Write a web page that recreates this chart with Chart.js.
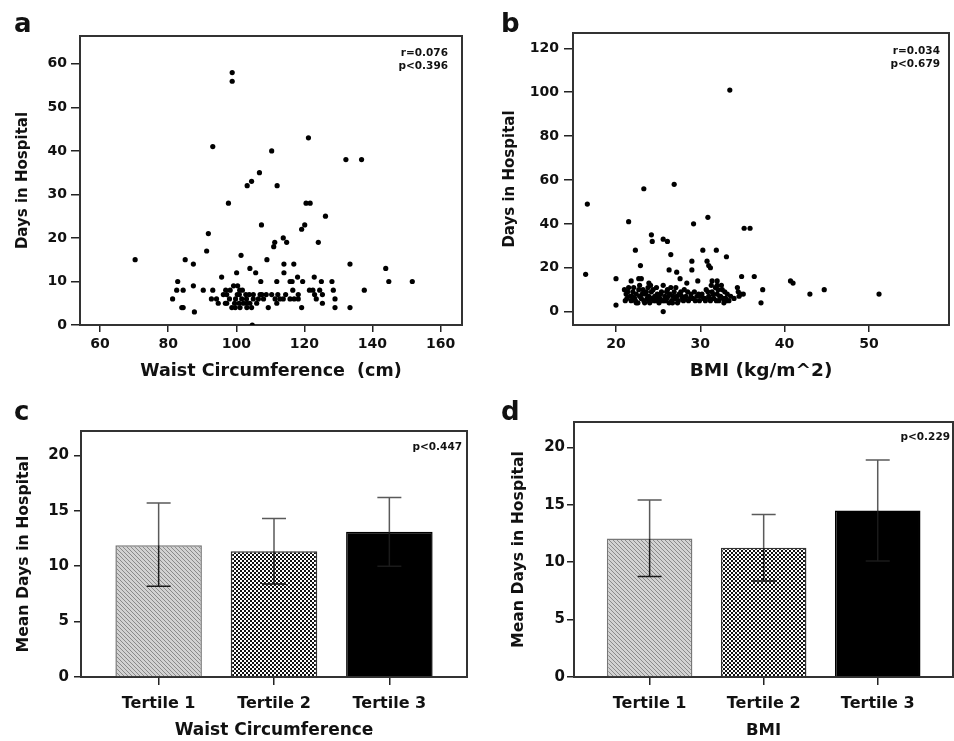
<!DOCTYPE html>
<html>
<head>
<meta charset="utf-8">
<script src="https://cdn.jsdelivr.net/npm/chart.js@4.4.1/dist/chart.umd.min.js"></script>
<style>
  body { margin: 0; background: #fff; width: 954px; height: 741px; overflow: hidden; position: relative; font-family: "DejaVu Sans", sans-serif; color: #111; }
  canvas { position: absolute; }
  .letter { position: absolute; font-size: 26px; line-height: 26px; font-weight: bold; }
  .note { position: absolute; font-size: 10.5px; line-height: 12.5px; font-weight: bold; text-align: right; }
</style>
</head>
<body>
<canvas id="ca" width="477" height="392" style="left:0;top:0"></canvas>
<canvas id="cb" width="477" height="392" style="left:477px;top:0"></canvas>
<canvas id="cc" width="477" height="361" style="left:0;top:380px"></canvas>
<canvas id="cd" width="477" height="361" style="left:477px;top:380px"></canvas>

<div class="letter" style="left:14px;top:10px">a</div>
<div class="letter" style="left:501px;top:10px">b</div>
<div class="letter" style="left:14px;top:398px">c</div>
<div class="letter" style="left:501px;top:398px">d</div>

<div class="note" style="right:506px;top:46px">r=0.076<br>p&lt;0.396</div>
<div class="note" style="right:14px;top:44px">r=0.034<br>p&lt;0.679</div>
<div class="note" style="right:492px;top:440px">p&lt;0.447</div>
<div class="note" style="right:4px;top:430px">p&lt;0.229</div>

<script>
// panel a: waist circumference (cm) vs days in hospital
const waistCm = [70.3, 98.8, 98.8, 93.1, 121.2, 110.4, 132.2, 136.8, 106.8, 103.2,
  104.5, 112, 97.7, 120.5, 121.7, 126.2, 107.4, 119.2, 120.1, 91.8,
  91.3, 113.8, 114.8, 111, 111.3, 124.1, 101.4, 85, 109, 87.4,
  114, 116.9, 133.4, 143.9, 104, 105.7, 100.1, 114, 95.7, 122.9,
  118, 82.8, 107.2, 111.9, 115.8, 116.4, 119.5, 125, 128.1, 144.8,
  151.7, 87.4, 99.2, 100.4, 82.5, 84.4, 90.3, 93.1, 96.9, 98.2,
  101, 116.6, 121.5, 122.5, 128.5, 137.6, 97.2, 100.3, 100.9, 105,
  107.5, 112.2, 114.5, 118.2, 125.3, 81.3, 92.7, 94.2, 101.6, 103,
  105, 108, 111.4, 112.8, 113.8, 115.8, 117, 118.2, 123.5, 129,
  94.7, 96.8, 97.2, 102.1, 103.1, 104, 106, 111.9, 125.3, 84,
  84.4, 98.7, 99.7, 101.1, 103.1, 109.4, 119.2, 129, 133.4, 87.7,
  104.7, 110.4, 107, 124.5, 123, 98, 99.5, 100.8, 102.8, 104.5,
  106.5, 108.8, 96.2, 99.8, 101.8, 103.8];
const waistDays = [15, 58, 56, 41, 43, 40, 38, 38, 35, 32,
  33, 32, 28, 28, 28, 25, 23, 22, 23, 21,
  17, 20, 19, 18, 19, 19, 16, 15, 15, 14,
  14, 14, 14, 13, 13, 12, 12, 12, 11, 11,
  11, 10, 10, 10, 10, 10, 10, 10, 10, 10,
  10, 9, 9, 9, 8, 8, 8, 8, 8, 8,
  8, 8, 8, 8, 8, 8, 7, 7, 7, 7,
  7, 7, 7, 7, 7, 6, 6, 6, 6, 6,
  6, 6, 6, 6, 6, 6, 6, 6, 6, 6,
  5, 5, 5, 5, 5, 5, 5, 5, 5, 4,
  4, 4, 4, 4, 4, 4, 4, 4, 4, 3,
  0, 7, 7, 8, 7, 6, 5, 5, 7, 4,
  6, 7, 7, 6, 8, 7];
const waistTicks = [60, 80, 100, 120, 140, 160];
const waistDayTicks = [0, 10, 20, 30, 40, 50, 60];

// panel b: BMI vs days in hospital
const bmiVals = [16.6, 16.4, 33.5, 23.3, 26.9, 21.5, 29.2, 30.9, 35.2, 35.9,
  24.2, 24.3, 25.6, 26.1, 22.3, 30.3, 31.9, 26.5, 33.1, 22.9,
  29, 30.8, 31, 31.2, 29, 26.3, 27.2, 20, 22.7, 23,
  27.6, 34.9, 36.4, 21.8, 23.9, 28.4, 29.7, 31.4, 32, 40.7,
  41, 22.8, 34.4, 37.4, 44.7, 43, 51.2, 34.8, 35.1, 37.2,
  20, 25.6, 34, 34.6, 34.5,
  21, 21.2, 21.3, 21.5, 21.7, 21.8, 22, 22.2, 22.4, 22.6,
  22.8, 23, 23.2, 23.3, 23.5, 23.7, 23.9, 24, 24.2, 24.3,
  24.5, 24.6, 24.8, 25, 25.1, 25.3, 25.5, 25.6, 25.8, 26,
  26.1, 26.3, 26.4, 26.6, 26.8, 27, 27.1, 27.3, 27.5, 27.7,
  27.9, 28.1, 28.3, 28.6, 28.9, 29.1, 29.3, 29.6, 29.9, 30.2,
  30.5, 30.7, 31, 31.2, 31.4, 31.6, 31.8, 32, 32.2, 32.4,
  32.6, 32.8, 33, 33.2, 33.4, 22.4, 23.9, 25.7, 26.9, 24.1,
  22.1, 31.3, 32.5, 30.1, 28, 33.6,
  21.4, 21.9, 22.3, 22.7, 23.1, 23.4, 23.6, 24.1, 24.4, 24.7,
  24.9, 25.2, 25.4, 25.9, 26.2, 26.5, 26.7, 27.2, 27.4, 27.8,
  28.2, 28.5, 28.8, 29.4, 29.8, 30.4, 30.9, 31.1, 31.5, 31.9,
  32.1, 32.3, 32.7, 32.9, 33.1, 21.1, 23.8, 26, 30.6, 32];
const bmiDays = [49, 17, 101, 56, 58, 41, 40, 43, 38, 38,
  35, 32, 33, 32, 28, 28, 28, 26, 25, 21,
  23, 23, 21, 20, 19, 19, 18, 15, 15, 15,
  15, 16, 16, 14, 13, 13, 14, 14, 14, 14,
  13, 12, 11, 10, 10, 8, 8, 8, 8, 4,
  3, 0, 6, 7, 9,
  10, 8, 6, 11, 7, 5, 9, 6, 8, 4,
  7, 6, 10, 5, 8, 6, 7, 4, 9, 6,
  5, 7, 11, 6, 4, 8, 5, 12, 7, 6,
  10, 4, 8, 5, 7, 6, 11, 4, 8, 9,
  6, 10, 7, 5, 8, 6, 9, 7, 5, 8,
  6, 10, 7, 5, 9, 6, 11, 8, 5, 7,
  10, 4, 6, 8, 5, 4, 5, 5, 9, 12,
  11, 12, 12, 7, 5, 7,
  9, 7, 5, 10, 8, 4, 9, 6, 10, 5,
  8, 6, 9, 5, 7, 11, 4, 7, 5, 7,
  6, 9, 6, 5, 8, 6, 9, 6, 8, 5,
  10, 7, 6, 9, 5, 5, 11, 9, 5, 12];
const bmiTicks = [20, 30, 40, 50];
const bmiDayTicks = [0, 20, 40, 60, 80, 100, 120];

// panels c and d: mean days in hospital by tertile, with error bars
const tertiles = ['Tertile 1', 'Tertile 2', 'Tertile 3'];
const waistMeans = [11.9, 11.35, 13.1];
const waistHigh  = [15.7, 14.3, 16.2];
const waistLow   = [8.2, 8.4, 10.0];
const bmiMeans   = [12.05, 11.25, 14.5];
const bmiHigh    = [15.4, 14.15, 18.9];
const bmiLow     = [8.75, 8.35, 10.1];
const meanTicks  = [0, 5, 10, 15, 20];

Chart.defaults.font.family = '"DejaVu Sans", sans-serif';
Chart.defaults.color = '#111';

const frame = {
  id: 'frame',
  beforeDatasetsDraw(chart) {
    const { ctx, chartArea: a } = chart;
    ctx.save();
    ctx.strokeStyle = '#333';
    ctx.lineWidth = 2;
    ctx.strokeRect(a.left, a.top, a.right - a.left, a.bottom - a.top);
    ctx.restore();
  }
};

// whisker above the bar is grey, the part inside the bar is near black
const errorBars = {
  id: 'errorBars',
  afterDatasetsDraw(chart, args, opts) {
    const { ctx } = chart;
    const y = chart.scales.y;
    const meta = chart.getDatasetMeta(0);
    ctx.save();
    ctx.lineWidth = 1.5;
    meta.data.forEach((bar, i) => {
      const top = y.getPixelForValue(opts.hi[i]);
      const bot = y.getPixelForValue(opts.lo[i]);
      ctx.strokeStyle = '#5a5a5a';
      ctx.beginPath();
      ctx.moveTo(bar.x, top); ctx.lineTo(bar.x, bar.y);
      ctx.moveTo(bar.x - 12, top); ctx.lineTo(bar.x + 12, top);
      ctx.stroke();
      ctx.strokeStyle = '#1a1a1a';
      ctx.beginPath();
      ctx.moveTo(bar.x, bar.y); ctx.lineTo(bar.x, bot);
      ctx.moveTo(bar.x - 12, bot); ctx.lineTo(bar.x + 12, bot);
      ctx.stroke();
    });
    ctx.restore();
  }
};

function pattern(draw) {
  const c = document.createElement('canvas');
  c.width = 4; c.height = 4;
  const g = c.getContext('2d');
  draw(g);
  return g.createPattern(c, 'repeat');
}

const hatch = pattern(g => {
  g.fillStyle = '#d2d2d2'; g.fillRect(0, 0, 4, 4);
  g.fillStyle = '#8a8a8a';
  for (let i = 0; i < 4; i++) g.fillRect(i, i, 1, 1);
});
const checker = pattern(g => {
  g.fillStyle = '#111'; g.fillRect(0, 0, 4, 4);
  g.fillStyle = '#fff';
  g.fillRect(0, 0, 2, 2); g.fillRect(2, 2, 2, 2);
});

function axis(o) {
  return {
    type: 'linear',
    offset: false,
    min: o.min, max: o.max,
    afterBuildTicks: s => { s.ticks = o.ticks.map(v => ({ value: v })); },
    afterFit: s => { if (o.width) s.width = o.width; if (o.height) s.height = o.height; },
    grid: { offset: false, drawOnChartArea: false, tickLength: o.tickLength, color: '#222', lineWidth: 1.5 },
    border: { display: false },
    ticks: { padding: o.pad, font: { size: o.size, weight: 'bold' }, color: '#111',
             maxRotation: 0, autoSkip: false,
             callback: o.labels ? (v, i) => o.labels[i] : v => v },
    title: { display: true, text: o.title, color: '#111',
             font: { size: o.titleSize, weight: 'bold' }, padding: o.titlePad }
  };
}

function scatter(id, xs, ys, pad, x, y) {
  new Chart(document.getElementById(id), {
    type: 'scatter',
    data: { datasets: [{ data: xs.map((v, i) => ({ x: v, y: ys[i] })),
      pointRadius: 2.6, backgroundColor: '#000', borderWidth: 0 }] },
    options: {
      responsive: false, animation: false,
      layout: { padding: pad },
      plugins: { legend: { display: false }, tooltip: { enabled: false } },
      scales: { x: axis(x), y: axis(y) }
    },
    plugins: [frame]
  });
}

function bars(id, means, hi, lo, pad, x, y) {
  new Chart(document.getElementById(id), {
    type: 'bar',
    data: { datasets: [{ data: means.map((m, i) => ({ x: i + 1, y: m })),
      backgroundColor: [hatch, checker, '#000'],
      borderColor: ['#777', '#333', '#000'], borderWidth: 1.5,
      categoryPercentage: 1, barPercentage: 0.75 }] },
    options: {
      responsive: false, animation: false,
      layout: { padding: pad },
      plugins: { legend: { display: false }, tooltip: { enabled: false },
                 errorBars: { hi: hi, lo: lo } },
      scales: { x: axis(x), y: axis(y) }
    },
    plugins: [frame, errorBars]
  });
}

scatter('ca', waistCm, waistDays, { top: 36, right: 15, left: 0, bottom: 0 },
  { min: 54.1, max: 166.3, ticks: waistTicks, height: 67, tickLength: 7, pad: 4, size: 14,
    title: 'Waist Circumference  (cm)', titleSize: 17.5, titlePad: { top: 0, bottom: 10 } },
  { min: 0, max: 66.4, ticks: waistDayTicks, width: 80, tickLength: 9, pad: 4, size: 14,
    title: 'Days in Hospital', titleSize: 15, titlePad: { top: 14, bottom: 0 } });

scatter('cb', bmiVals, bmiDays, { top: 33, right: 5, left: 0, bottom: 0 },
  { min: 14.9, max: 59.5, ticks: bmiTicks, height: 67, tickLength: 7, pad: 4, size: 14,
    title: 'BMI (kg/m^2)', titleSize: 18.5, titlePad: { top: 0, bottom: 10 } },
  { min: -6.1, max: 127, ticks: bmiDayTicks, width: 96, tickLength: 9, pad: 5, size: 14,
    title: 'Days in Hospital', titleSize: 15, titlePad: { top: 24, bottom: 0 } });

bars('cc', waistMeans, waistHigh, waistLow, { top: 51, right: 10, left: 0, bottom: 0 },
  { min: 0.327, max: 3.673, ticks: [1, 2, 3], labels: tertiles, height: 64, tickLength: 8, pad: 9, size: 16,
    title: 'Waist Circumference', titleSize: 17, titlePad: { top: 0, bottom: 0 } },
  { min: 0, max: 22.2, ticks: meanTicks, width: 81, tickLength: 7, pad: 5, size: 15,
    title: 'Mean Days in Hospital', titleSize: 15.7, titlePad: { top: 15, bottom: 0 } });

bars('cd', bmiMeans, bmiHigh, bmiLow, { top: 42, right: 1, left: 0, bottom: 0 },
  { min: 0.337, max: 3.66, ticks: [1, 2, 3], labels: tertiles, height: 64, tickLength: 8, pad: 9, size: 16,
    title: 'BMI', titleSize: 16.5, titlePad: { top: 0, bottom: 0 } },
  { min: 0, max: 22.2, ticks: meanTicks, width: 97, tickLength: 7, pad: 2, size: 15,
    title: 'Mean Days in Hospital', titleSize: 15.7, titlePad: { top: 33, bottom: 0 } });
</script>
</body>
</html>
